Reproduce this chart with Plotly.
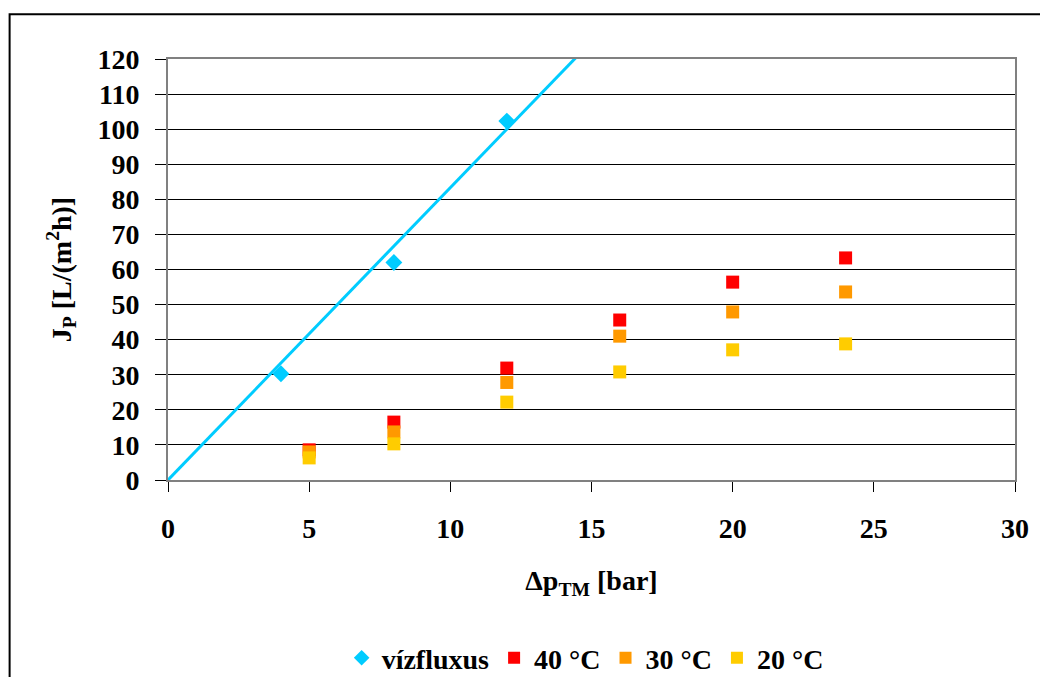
import plotly.graph_objects as go

# ---- data ----
dp_viz = [4, 8, 12]
j_viz = [30.3, 62.0, 102.3]

# trend line (through origin) for water flux
trend_x = [0, 30]
trend_y = [0, 250]

dp_temp = [5, 8, 12, 16, 20, 24]
j_40 = [8.6, 16.5, 31.9, 45.6, 56.4, 63.3]
j_30 = [8.0, 13.7, 27.8, 41.0, 47.9, 53.6]
j_20 = [6.3, 10.3, 22.2, 30.8, 37.1, 38.8]

y_ticks = list(range(0, 121, 10))
x_ticks = list(range(0, 31, 5))

FONT = "Liberation Serif"

fig = go.Figure()

fig.add_trace(go.Scatter(
    x=trend_x, y=trend_y, mode="lines",
    line=dict(color="#00CCFF", width=3),
    showlegend=False, hoverinfo="skip"))

fig.add_trace(go.Scatter(
    x=dp_viz, y=j_viz, mode="markers", name="vízfluxus",
    marker=dict(symbol="diamond", size=13, color="#00CCFF")))

fig.add_trace(go.Scatter(
    x=dp_temp, y=j_40, mode="markers", name="40 °C",
    marker=dict(symbol="square", size=13, color="#FF0000")))
fig.add_trace(go.Scatter(
    x=dp_temp, y=j_30, mode="markers", name="30 °C",
    marker=dict(symbol="square", size=13, color="#FF9900")))
fig.add_trace(go.Scatter(
    x=dp_temp, y=j_20, mode="markers", name="20 °C",
    marker=dict(symbol="square", size=13, color="#FFCC00")))

fig.update_layout(
    width=1040, height=677,
    margin=dict(l=168, r=25, t=59, b=197, autoexpand=False),
    paper_bgcolor="white", plot_bgcolor="white",
    font=dict(family=FONT, size=28, color="black", weight="bold"),
    showlegend=True,
    legend=dict(orientation="h", x=0.4925, xanchor="center", xref="paper",
                y=19 / 677, yanchor="middle", yref="container",
                font=dict(family=FONT, size=28, color="black", weight="bold"),
                itemsizing="constant", traceorder="normal",
                itemwidth=30, tracegroupgap=0),
)

fig.update_xaxes(
    range=[0, 30], tickvals=x_ticks, ticktext=[str(v) for v in x_ticks],
    showgrid=False, zeroline=False,
    showline=True, linecolor="#808080", linewidth=2, mirror=True,
    ticks="outside", ticklen=10, tickcolor="black", tickwidth=1,
    tickfont=dict(family=FONT, size=28, weight="bold"),
    ticklabelstandoff=12,
    title=dict(text="Δp<sub>TM</sub> [bar]", standoff=28,
               font=dict(family=FONT, size=28, weight="bold")),
)

fig.update_yaxes(
    range=[0, 120], tickvals=y_ticks, ticktext=[str(v) for v in y_ticks],
    showgrid=True, gridcolor="black", gridwidth=1, zeroline=False,
    showline=True, linecolor="#808080", linewidth=2, mirror=True,
    ticks="outside", ticklen=11, tickcolor="black", tickwidth=1,
    tickfont=dict(family=FONT, size=28, weight="bold"),
    ticklabelstandoff=10,
    title=dict(text="J<sub>P</sub> [L/(m<sup>2</sup>h)]", standoff=18,
               font=dict(family=FONT, size=28, weight="bold")),
)

# outer chart border (top and left visible)
fig.add_shape(type="rect", xref="paper", yref="paper",
              x0=-0.187, y0=-1.0, x1=1.2, y1=1.106,
              line=dict(color="black", width=2), fillcolor="rgba(0,0,0,0)",
              layer="below")

fig.write_html("out.html")
